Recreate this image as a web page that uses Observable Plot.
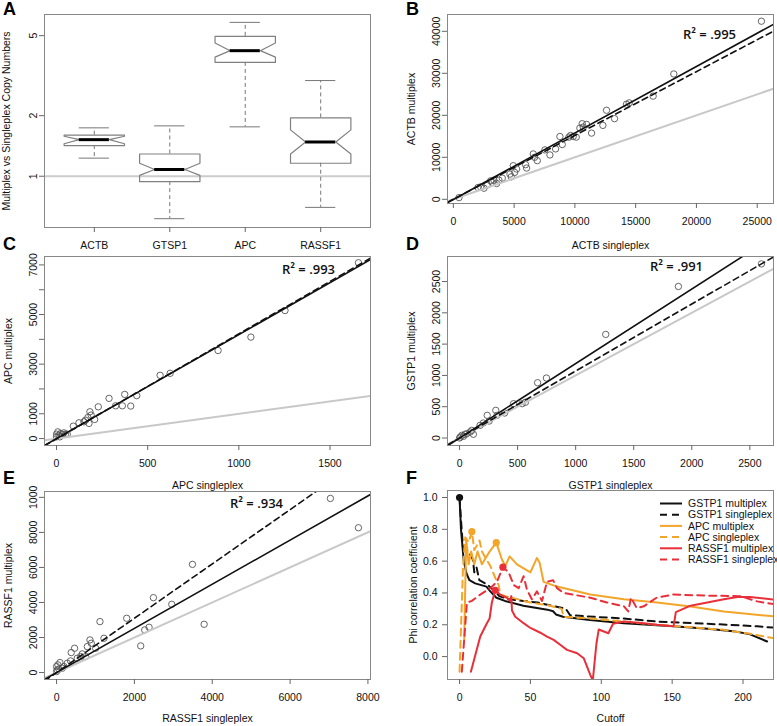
<!DOCTYPE html>
<html><head><meta charset="utf-8">
<script src="https://cdn.jsdelivr.net/npm/d3@7"></script>
<script src="https://cdn.jsdelivr.net/npm/@observablehq/plot@0.6"></script>
<style>
body{margin:0;background:#fff;}
#fig{position:relative;width:777px;height:726px;overflow:hidden;font-family:"Liberation Sans",Arial,sans-serif;background:#fff;}
.letter{position:absolute;font-weight:bold;font-size:18px;line-height:1;font-family:"Liberation Sans",Arial,sans-serif;}
</style></head><body><div id="fig"></div>
<script>
// ---------- Panel A: boxplot of multiplex / singleplex ratios ----------
const genesA = ["ACTB", "GTSP1", "APC", "RASSF1"];
const whiskerLow  = [1.23, 0.615, 1.76, 0.70];
const q1          = [1.42, 0.94, 3.68, 1.16];
const notchLow    = [1.45, 1.01, 3.91, 1.29];
const medianA     = [1.52, 1.08, 4.21, 1.48];
const notchHigh   = [1.58, 1.16, 4.60, 1.70];
const q3          = [1.60, 1.29, 4.96, 1.95];
const whiskerHigh = [1.74, 1.78, 5.82, 2.99];
const aYTicks = [1, 2, 5];

// ---------- Panel B: ACTB ----------
const bSingle = [466,2028,2247,2521,2795,3069,3206,3343,3562,3754,4028,4658,4768,4932,5042,5206,5946,6028,6576,6686,6905,7535,7946,8412,8768,8960,9508,9645,9864,10111,10412,10604,10686,10960,11371,12303,12604,13262,14248,14467,16440,18139,25345];
const bMulti  = [400,2800,2960,2640,3440,4400,4000,4560,3760,4560,5040,6000,5360,8000,6400,7200,8240,7440,10800,10000,9200,11760,10560,12000,14960,13040,14800,15200,14960,14800,16960,18000,17200,17840,15760,17600,21200,19200,22640,22960,24560,29840,42400];
const bSlopes = [1, 1.584, 1.52];
const bIntercepts = [0, -50, 0];

// ---------- Panel C: APC ----------
const cSingle = [0,0,7,13,22,31,40,49,59,18,92,123,150,159,172,178,183,190,209,229,288,324,361,374,407,440,568,623,886,1066,1253,1656];
const cMulti  = [70,175,270,135,200,175,230,175,175,70,500,635,675,740,850,610,1080,945,770,1280,1620,1320,1320,1780,1310,1730,2550,2630,3550,4090,5160,7090];
const cSlopes = [1, 4.19, 4.23];
const cIntercepts = [0, 0, -10];

// ---------- Panel D: GSTP1 ----------
const dSingle = [0,6,20,34,48,62,91,105,119,176,204,238,255,312,323,388,465,539,567,672,748,1259,1885,2600];
const dMulti  = [0,16,43,27,59,69,96,122,59,202,239,362,271,442,362,399,548,548,570,883,958,1655,2421,2782];
const dSlopes = [1, 1.19, 1.07];
const dIntercepts = [0, 0, 0];

// ---------- Panel E: RASSF1 ----------
const eSingle = [0,17,60,0,34,86,146,189,275,360,377,463,532,618,660,746,790,858,892,1004,1115,1218,1802,2162,2265,2377,2488,2960,3492,3792,7036,7756];
const eMulti  = [57,152,190,342,437,570,247,342,532,665,1140,1387,817,912,1064,912,1482,1862,1672,1387,2907,1957,3097,1520,2432,2584,4275,3895,6175,2755,9937,8265];
const eSlopes = [1, 1.26, 1.55];
const eIntercepts = [0, 0, 0];

// ---------- Panel F: phi correlation vs cutoff ----------
const fSeriesNames = ["GSTP1 multiplex","GSTP1 singleplex","APC multiplex","APC singleplex","RASSF1 multiplex","RASSF1 singleplex"];
const gstp1Multiplex = [[0,1.0],[1,0.8],[3,0.6],[5,0.52],[7,0.48],[11,0.46],[19,0.44],[21.7,0.41],[26,0.37],[32,0.35],[45,0.32],[62,0.295],[66,0.285],[68,0.265],[73,0.25],[92,0.23],[116,0.21],[151,0.19],[175,0.175],[193,0.16],[205,0.14],[217,0.095]];
const gstp1Singleplex = [[0,1.0],[1,0.86],[2.4,0.69],[5.2,0.67],[7.5,0.64],[9.4,0.61],[10.4,0.53],[12,0.56],[14,0.48],[20,0.45],[25,0.41],[28,0.38],[35,0.36],[45,0.35],[55,0.34],[65,0.32],[75,0.30],[78,0.26],[95,0.25],[115,0.24],[140,0.22],[165,0.21],[190,0.20],[210,0.19],[225,0.18]];
const apcMultiplex = [[3.3,0.105],[4.7,0.74],[6.4,0.58],[8.2,0.66],[10.4,0.58],[12.7,0.66],[15.8,0.58],[21.2,0.66],[25.9,0.716],[29.9,0.61],[32.3,0.57],[35.3,0.63],[40.5,0.58],[50,0.53],[54.6,0.62],[56.5,0.59],[59.3,0.47],[68.8,0.44],[92.3,0.39],[115.9,0.36],[139.4,0.34],[163,0.315],[186.5,0.284],[225,0.25]];
const apcSingleplex = [[0,-0.095],[2.4,0.55],[4,0.75],[6.4,0.72],[8.7,0.785],[10.4,0.67],[14.1,0.73],[15.8,0.66],[21.7,0.57],[25.9,0.48],[27.6,0.45],[28.7,0.39],[32.3,0.38],[37,0.37],[50,0.34],[64,0.32],[72,0.3],[73.5,0.25],[92,0.24],[116,0.22],[139,0.20],[163,0.185],[186.5,0.168],[205,0.143],[225,0.11]];
const rassf1Multiplex = [[8,-0.095],[14.6,0.126],[19.3,0.21],[21.2,0.24],[22.8,0.34],[25.2,0.417],[28.7,0.39],[33.4,0.37],[35.8,0.35],[36.5,0.38],[37,0.29],[39.3,0.25],[45.2,0.21],[50,0.18],[57,0.15],[61.7,0.126],[66.4,0.105],[71,0.074],[75.8,0.042],[83,0.021],[87.6,-0.01],[92.3,-0.116],[94,-0.15],[95,-0.06],[96.6,0.084],[98.2,0.17],[105,0.147],[108.3,0.206],[115.9,0.22],[130,0.21],[139.4,0.2],[151,0.19],[152.6,0.28],[163,0.32],[186.5,0.36],[196,0.375],[205,0.375],[225,0.355]];
const rassf1Singleplex = [[1.6,-0.095],[5.2,0.34],[8.7,0.35],[14.6,0.39],[21.7,0.43],[26.4,0.47],[30.6,0.562],[34.6,0.53],[38.2,0.45],[41.7,0.43],[45.2,0.505],[47.6,0.42],[51,0.36],[54.6,0.41],[58.2,0.35],[61.7,0.47],[66,0.48],[68.8,0.43],[73.5,0.40],[92.3,0.37],[104,0.34],[116,0.316],[119,0.284],[121,0.37],[125,0.305],[130,0.316],[139,0.37],[151,0.39],[175,0.383],[198,0.38],[210,0.347],[225,0.325]];
const fSeries = [gstp1Multiplex, gstp1Singleplex, apcMultiplex, apcSingleplex, rassf1Multiplex, rassf1Singleplex];
const fColors = ["#111111","#111111","#f3a52a","#f3a52a","#e9303a","#e9303a"];
const fDashed = [false, true, false, true, false, true];
const peakCutoff = [0, 8.7, 25.9, 30.6, 25.2];
const peakPhi    = [1.0, 0.785, 0.716, 0.562, 0.417];
const peakSeries = [0, 3, 2, 5, 4];

// ---------- helpers ----------
const fig = document.getElementById("fig");
const FONT = '"Liberation Sans", Arial, sans-serif';
function place(node, left, top) {
  node.style.position = "absolute";
  node.style.left = left + "px";
  node.style.top = top + "px";
  fig.appendChild(node);
}
function letter(t, left, top) {
  const d = document.createElement("div");
  d.className = "letter"; d.textContent = t;
  d.style.left = left + "px"; d.style.top = top + "px";
  fig.appendChild(d);
}
const styleBase = {fontFamily: FONT, fontSize: "10.5px", background: "transparent", overflow: "visible", color: "#111"};
const axisCommon = {tickSize: 5, stroke: "#666", fill: "#111", label: null, fontSize: 10.5};
function labelFormat(ticks, labels) {
  const m = new Map(ticks.map((t, i) => [t, labels[i]]));
  return d => m.get(d);
}
function xTitle(t, dy) {
  return Plot.text([t], {frameAnchor: "bottom", dy, text: d => d, textAnchor: "middle", lineAnchor: "middle", fontSize: 10.5, fill: "#111"});
}
function yTitle(t, dx) {
  return Plot.text([t], {frameAnchor: "left", dx, rotate: -90, text: d => d, textAnchor: "middle", lineAnchor: "middle", fontSize: 10.5, fill: "#111"});
}

// ---------- Panel A ----------
{
  const rows = genesA.map((g, i) => ({gene: g, i: i + 1, wlo: whiskerLow[i], q1: q1[i], nlo: notchLow[i], med: medianA[i], nhi: notchHigh[i], q3: q3[i], whi: whiskerHigh[i]}));
  const w = 0.4;
  const outline = rows.flatMap(d => {
    const x = d.i;
    return [[x - w, d.q3], [x + w, d.q3], [x + w, d.nhi], [x + w / 2, d.med], [x + w, d.nlo], [x + w, d.q1],
            [x - w, d.q1], [x - w, d.nlo], [x - w / 2, d.med], [x - w, d.nhi], [x - w, d.q3]]
      .map(([px, py]) => ({gene: d.gene, x: px, y: py}));
  });
  const svg = Plot.plot({
    width: 388, height: 262,
    marginLeft: 44, marginRight: 18, marginTop: 14, marginBottom: 35,
    style: styleBase,
    x: {domain: [0.34, 4.66], axis: null},
    y: {type: "log", domain: [0.556, 6.37], axis: null},
    marks: [
      Plot.ruleY([1], {stroke: "#cccccc", strokeWidth: 2}),
      Plot.ruleX(rows, {x: "i", y1: "q3", y2: "whi", stroke: "#777", strokeDasharray: "4,3"}),
      Plot.ruleX(rows, {x: "i", y1: "q1", y2: "wlo", stroke: "#777", strokeDasharray: "4,3"}),
      Plot.ruleY(rows, {y: "whi", x1: d => d.i - 0.2, x2: d => d.i + 0.2, stroke: "#777"}),
      Plot.ruleY(rows, {y: "wlo", x1: d => d.i - 0.2, x2: d => d.i + 0.2, stroke: "#777"}),
      Plot.line(outline, {x: "x", y: "y", z: "gene", stroke: "#808080", strokeWidth: 1.2}),
      Plot.ruleY(rows, {y: "med", x1: d => d.i - w / 2, x2: d => d.i + w / 2, stroke: "#000", strokeWidth: 3}),
      Plot.frame({stroke: "#888"}),
      Plot.axisX({...axisCommon, ticks: rows.map(d => d.i), tickPadding: 9, tickFormat: d => genesA[d - 1]}),
      Plot.axisY({...axisCommon, ticks: aYTicks, tickRotate: -90, tickPadding: 3, tickFormat: d => String(d)}),
      yTitle("Multiplex vs Singleplex Copy Numbers", -38)
    ]
  });
  svg.style.fontSize = "10.5px";
  place(svg, 0, 0);
}

// ---------- Scatter panels ----------
function scatter(o) {
  const pts = o.xs.map((x, i) => ({x, y: o.ys[i]}));
  const lineStyles = [
    {stroke: "#c8c8c8", strokeWidth: 2},
    {stroke: "#111", strokeWidth: 1.6},
    {stroke: "#111", strokeWidth: 1.6, strokeDasharray: "6,4"}
  ];
  const lineMarks = o.slopes.map((b, k) => {
    const a = o.intercepts[k];
    const seg = o.xDomain.map(x => ({x, y: a + b * x}));
    return Plot.line(seg, {x: "x", y: "y", clip: true, ...lineStyles[k]});
  });
  const svg = Plot.plot({
    width: o.width, height: o.height,
    marginLeft: o.ml, marginRight: o.mr, marginTop: o.mt, marginBottom: o.mb,
    style: styleBase,
    x: {domain: o.xDomain, axis: null},
    y: {domain: o.yDomain, axis: null},
    marks: [
      Plot.dot(pts, {x: "x", y: "y", r: 3.2, stroke: "#555", strokeWidth: 0.9, fill: "none", clip: true}),
      ...lineMarks,
      Plot.frame({stroke: "#888"}),
      Plot.axisX({...axisCommon, ticks: o.xTicks, tickPadding: 9, tickFormat: d3.format("d")}),
      Plot.axisY({...axisCommon, ticks: o.yTicks, tickRotate: -90, tickPadding: 3, tickFormat: o.yFormat || d3.format("d")}),
      xTitle(o.xTitle, o.xTitleDy),
      yTitle(o.yTitle, -36),
      Plot.text([o.r2], {frameAnchor: "top-right", dx: o.r2dx, dy: o.r2dy, text: d => d, textAnchor: "middle", lineAnchor: "middle", fontSize: 13, fontFamily: '"Open Sans", sans-serif', fontWeight: 600, fill: "#111"})
    ]
  });
  svg.style.fontSize = "10.5px";
  place(svg, o.left, o.top);
}

const bXTicks = [0, 5000, 10000, 15000, 20000, 25000];
const bYTicks = [0, 10000, 20000, 30000, 40000];
scatter({xs: bSingle, ys: bMulti, slopes: bSlopes, intercepts: bIntercepts,
  xDomain: [-480, 26340], yDomain: [-1000, 44000], xTicks: bXTicks, yTicks: bYTicks,
  xTitle: "ACTB singleplex", yTitle: "ACTB multiplex", r2: "R² = .995", r2dx: -64, r2dy: 20,
  left: 390, top: 0, width: 387, height: 262, ml: 57, mr: 4, mt: 14, mb: 59, xTitleDy: 42});

const cXTicks = [0, 500, 1000, 1500];
const cYTicks = [0, 1000, 2000, 3000, 4000, 5000, 6000, 7000];
const cYLabels = ["0", "1000", "", "3000", "", "5000", "", "7000"];
scatter({xs: cSingle, ys: cMulti, slopes: cSlopes, intercepts: cIntercepts,
  xDomain: [-66, 1722], yDomain: [-280, 7340], xTicks: cXTicks, yTicks: cYTicks, yFormat: labelFormat(cYTicks, cYLabels),
  xTitle: "APC singleplex", yTitle: "APC multiplex", r2: "R² = .993", r2dx: -62, r2dy: 13,
  left: 0, top: 235, width: 388, height: 260, ml: 44, mr: 18, mt: 21, mb: 50, xTitleDy: 40});

const dXTicks = [0, 500, 1000, 1500, 2000, 2500];
const dYTicks = [0, 500, 1000, 1500, 2000, 2500];
scatter({xs: dSingle, ys: dMulti, slopes: dSlopes, intercepts: dIntercepts,
  xDomain: [-104, 2704], yDomain: [-120, 2900], xTicks: dXTicks, yTicks: dYTicks,
  xTitle: "GSTP1 singleplex", yTitle: "GSTP1 multiplex", r2: "R² = .991", r2dx: -97, r2dy: 10,
  left: 390, top: 235, width: 387, height: 260, ml: 57, mr: 4, mt: 21, mb: 50, xTitleDy: 40});

const eXTicks = [0, 2000, 4000, 6000, 8000];
const eYTicks = [0, 2000, 4000, 6000, 8000, 10000];
const eYLabels = ["0", "2000", "4000", "6000", "8000", "1000"];
scatter({xs: eSingle, ys: eMulti, slopes: eSlopes, intercepts: eIntercepts,
  xDomain: [-310, 8066], yDomain: [-397, 10334], xTicks: eXTicks, yTicks: eYTicks, yFormat: labelFormat(eYTicks, eYLabels),
  xTitle: "RASSF1 singleplex", yTitle: "RASSF1 multiplex", r2: "R² = .934", r2dx: -114, r2dy: 12,
  left: 0, top: 470, width: 388, height: 256, ml: 44, mr: 18, mt: 21, mb: 47, xTitleDy: 39});

// ---------- Panel F ----------
{
  const fXTicks = [0, 50, 100, 150, 200];
  const fYTicks = [0, 0.2, 0.4, 0.6, 0.8, 1.0];
  const lineMarks = fSeries.map((s, k) => Plot.line(s, {
    x: d => d[0], y: d => d[1], stroke: fColors[k], strokeWidth: 2, clip: true,
    ...(fDashed[k] ? {strokeDasharray: "7,5"} : {})
  }));
  const peaks = peakCutoff.map((c, i) => ({c, p: peakPhi[i], col: fColors[peakSeries[i]]}));
  const svg = Plot.plot({
    width: 387, height: 256,
    marginLeft: 57, marginRight: 4, marginTop: 20, marginBottom: 47,
    style: styleBase,
    x: {domain: [-8.5, 221.5], axis: null},
    y: {domain: [-0.144, 1.044], axis: null},
    marks: [
      ...lineMarks,
      Plot.dot(peaks, {x: "c", y: "p", r: 3.6, fill: d => d.col, stroke: "none"}),
      Plot.frame({stroke: "#888"}),
      Plot.axisX({...axisCommon, ticks: fXTicks, tickPadding: 9, tickFormat: d3.format("d")}),
      Plot.axisY({...axisCommon, ticks: fYTicks, tickPadding: 5, tickFormat: d3.format(".1f")}),
      xTitle("Cutoff", 39),
      yTitle("Phi correlation coefficient", -34)
    ]
  });
  svg.style.fontSize = "10.5px";
  place(svg, 390, 470);

  // legend
  const ns = "http://www.w3.org/2000/svg";
  const lg = d3.create("svg").attr("width", 122).attr("height", 72)
    .style("font-family", FONT).style("font-size", "10.5px");
  fSeriesNames.forEach((name, k) => {
    const y = 8.5 + k * 11.2;
    lg.append("line").attr("x1", 4).attr("x2", 26).attr("y1", y).attr("y2", y)
      .attr("stroke", fColors[k]).attr("stroke-width", 2)
      .attr("stroke-dasharray", fDashed[k] ? "7,5" : null);
    lg.append("text").attr("x", 32).attr("y", y).attr("dy", "0.35em").attr("fill", "#111").text(name);
  });
  place(lg.node(), 656, 495);
}

// ---------- panel letters ----------
letter("A", 3, 0);
letter("B", 406, 0);
letter("C", 3, 235);
letter("D", 406, 235);
letter("E", 3, 469);
letter("F", 406, 469);
</script></body></html>
